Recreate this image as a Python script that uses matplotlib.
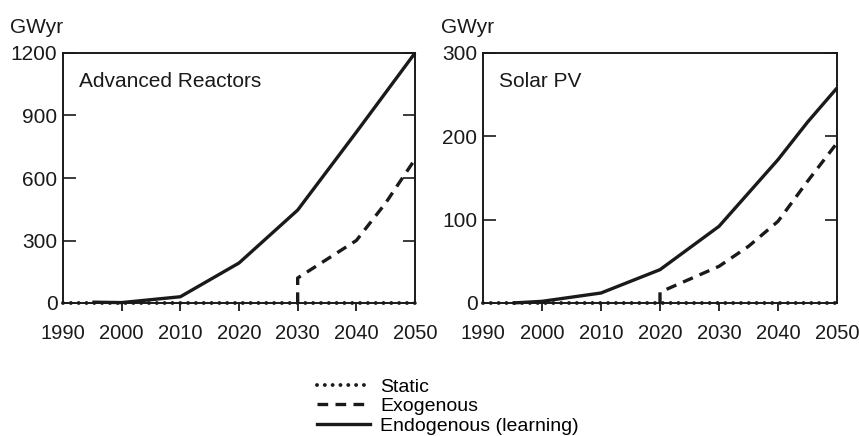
import numpy as np
import matplotlib
matplotlib.use("Agg")
import matplotlib.pyplot as plt
from matplotlib.lines import Line2D

plt.rcParams['font.family'] = ['Liberation Sans', 'DejaVu Sans']

# values (GWyr)
years_ticks = [1990, 2000, 2010, 2020, 2030, 2040, 2050]

# Advanced Reactors
ar_endo_x = [1995, 2000, 2010, 2020, 2030, 2040, 2050]
ar_endo_y = [4, 2, 30, 192, 446, 820, 1200]
ar_exo_x = [2030, 2030, 2040, 2045, 2050]
ar_exo_y = [0, 120, 300, 480, 690]
ar_static_x = [1990, 2050]
ar_static_y = [0, 0]

# Solar PV
pv_endo_x = [1995, 2000, 2010, 2020, 2030, 2040, 2045, 2050]
pv_endo_y = [0, 2, 12, 40, 92, 172, 217, 258]
pv_exo_x = [2020, 2020, 2030, 2035, 2040, 2045, 2050]
pv_exo_y = [0, 13, 44, 68, 98, 146, 192]
pv_static_x = [1990, 2050]
pv_static_y = [0, 0]

fig = plt.figure(figsize=(8.59, 4.36), dpi=100)
ax1 = fig.add_axes([63/859, 1-303/436, 352/859, 250/436])
ax2 = fig.add_axes([483/859, 1-303/436, 354/859, 250/436])

ink = '#1a1a1a'
dotted = (0, (0.01, 2.0))
dashed = (0, (3.2, 2.2))

panels = [
    (ax1, "Advanced Reactors", [0, 300, 600, 900, 1200],
     (ar_static_x, ar_static_y), (ar_exo_x, ar_exo_y), (ar_endo_x, ar_endo_y)),
    (ax2, "Solar PV", [0, 100, 200, 300],
     (pv_static_x, pv_static_y), (pv_exo_x, pv_exo_y), (pv_endo_x, pv_endo_y)),
]

for ax, title, yt, st, ex, en in panels:
    ax.plot(en[0], en[1], color=ink, lw=2.4, solid_capstyle='butt', clip_on=False)
    ax.plot(ex[0], ex[1], color=ink, lw=2.4, linestyle=dashed, clip_on=False)
    ax.plot(st[0], st[1], color=ink, lw=2.8, linestyle=dotted,
            dash_capstyle='round', clip_on=False, zorder=5)
    ax.set_xlim(1990, 2050)
    ax.set_ylim(yt[0], yt[-1])
    ax.set_xticks(years_ticks)
    ax.set_yticks(yt)
    ax.tick_params(axis='x', direction='out', length=6, width=1.3,
                   labelsize=14.5, pad=9, colors=ink)
    ax.tick_params(axis='y', direction='in', length=9, width=1.2,
                   labelsize=15, pad=4, right=True, colors=ink)
    for t in (ax.xaxis.get_major_ticks()[0], ax.xaxis.get_major_ticks()[-1]):
        t.tick1line.set_visible(False)
    for s in ax.spines.values():
        s.set_linewidth(1.4)
        s.set_color(ink)
    ax.text(0.045, 0.885, title, transform=ax.transAxes, fontsize=15,
            color=ink, va='center', ha='left')
    ax.text(-0.15 if ax is ax1 else -0.12, 1.065, "GWyr", transform=ax.transAxes,
            fontsize=15, color=ink, va='bottom', ha='left')

handles = [
    Line2D([], [], color=ink, lw=2.8, linestyle=dotted, dash_capstyle='round'),
    Line2D([], [], color=ink, lw=2.4, linestyle=dashed),
    Line2D([], [], color=ink, lw=2.4),
]
labels = ["Static", "Exogenous", "Endogenous (learning)"]
fig.legend(handles, labels, loc='upper left', bbox_to_anchor=(317/859, 1-378/436),
           frameon=False, fontsize=14, handlelength=2.7, handletextpad=0.55,
           labelspacing=0.1, borderpad=0, borderaxespad=0)

fig.savefig("out.png", dpi=100)
